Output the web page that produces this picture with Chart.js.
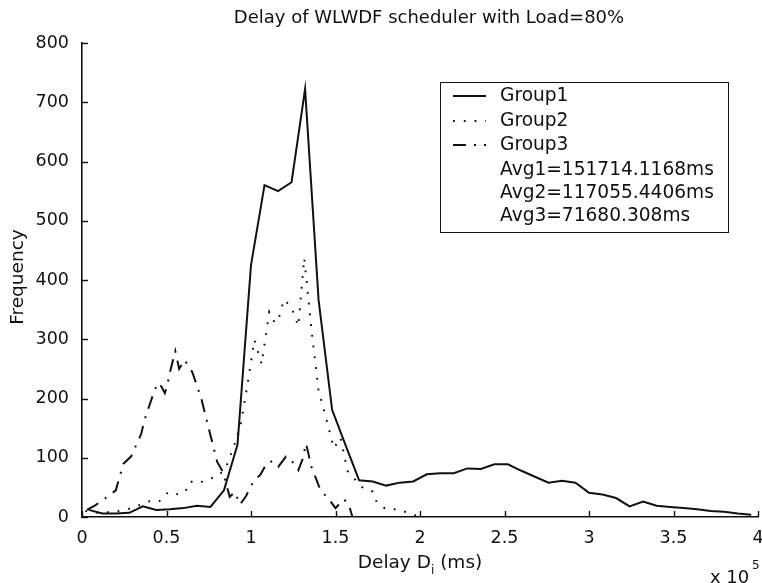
<!DOCTYPE html>
<html>
<head>
<meta charset="utf-8">
<script src="https://cdn.jsdelivr.net/npm/chart.js@4.4.1/dist/chart.umd.min.js"></script>
<style>
  html, body { margin: 0; padding: 0; background: #fff; }
  #wrap { width: 762px; height: 583px; }
</style>
</head>
<body>
<div id="wrap"><canvas id="c" width="762" height="583"></canvas></div>
<script>
/* Delay histogram, WLWDF scheduler @ 80% load — MATLAB-style black ink. */

// delay axis in units of 1e5 ms, frequency counts
var g1X = [0.04, 0.12, 0.20, 0.28, 0.36, 0.44, 0.52, 0.60, 0.68, 0.76, 0.84, 0.92, 1.00, 1.08, 1.16, 1.24,
           1.32, 1.40, 1.48, 1.56, 1.64, 1.72, 1.80, 1.88, 1.96, 2.04, 2.12, 2.20, 2.28, 2.36, 2.44, 2.52,
           2.60, 2.68, 2.76, 2.84, 2.92, 3.00, 3.08, 3.16, 3.24, 3.32, 3.40, 3.48, 3.56, 3.64, 3.72, 3.80,
           3.88, 3.96];
var g1Y = [12, 6, 6, 7, 18, 12, 13, 15, 19, 17, 45, 122, 425, 560, 550, 565,
           722, 366, 181, 121, 62, 60, 53, 58, 60, 72, 74, 74, 82, 81, 89, 89,
           78, 68, 58, 61, 58, 41, 38, 32, 18, 26, 19, 17, 15, 13, 10, 9,
           6, 4];

var g2X = [0.02, 0.10, 0.20, 0.28, 0.36, 0.42, 0.46, 0.51, 0.555, 0.61, 0.64, 0.69, 0.745, 0.80, 0.85,
           0.90, 0.94, 0.98, 1.02, 1.063, 1.108, 1.14, 1.16, 1.195, 1.24, 1.28, 1.315, 1.36, 1.40, 1.44,
           1.49, 1.53, 1.57, 1.62, 1.665, 1.72, 1.745, 1.80, 1.87, 1.94, 2.00];
var g2Y = [10, 7, 9, 14, 22, 29, 27, 42, 38, 42, 60, 57, 64, 68, 82,
           120, 158, 225, 299, 258, 346, 328, 331, 367, 354, 322, 437, 310, 213, 172,
           116, 134, 78, 62, 48, 43, 24, 13, 13, 6, 0];

var g3X = [0.03, 0.08, 0.14, 0.20, 0.245, 0.29, 0.35, 0.37, 0.42, 0.446, 0.47, 0.49, 0.505, 0.52,
           0.552, 0.575, 0.607, 0.652, 0.706, 0.76, 0.80, 0.834, 0.874, 0.905, 0.935, 0.97, 1.01,
           1.057, 1.095, 1.13, 1.162, 1.207, 1.23, 1.28, 1.306, 1.325, 1.34, 1.353, 1.38, 1.41,
           1.46, 1.50, 1.55, 1.58, 1.60];
var g3Y = [12, 20, 32, 45, 90, 102, 140, 164, 206, 226, 220, 209, 223, 244,
           280, 250, 265, 245, 200, 138, 93, 76, 34, 42, 21, 35, 58,
           72, 92, 94, 85, 102, 99, 79, 98, 124, 107, 88, 68, 46,
           30, 15, 30, 20, 0];

var seriesNames = ['Group1', 'Group2', 'Group3'];
var avgLines = ['Avg1=151714.1168ms', 'Avg2=117055.4406ms', 'Avg3=71680.308ms'];

var FONT = '"DejaVu Sans", "Liberation Sans", sans-serif';
var INK = '#111';

function pts(xs, ys) {
  return xs.map(function (x, i) { return { x: x, y: ys[i] }; });
}

// title, axis captions, inward ticks and the boxed legend
var decor = {
  id: 'decor',
  afterDraw: function (chart) {
    var ctx = chart.ctx, a = chart.chartArea;
    var xs = chart.scales.x, ys = chart.scales.y;
    ctx.save();
    ctx.strokeStyle = INK;
    ctx.fillStyle = INK;
    ctx.lineWidth = 1.4;

    // ticks point into the plot, MATLAB style
    ys.ticks.forEach(function (t) {
      var y = Math.round(ys.getPixelForValue(t.value)) + 0.5;
      ctx.beginPath(); ctx.moveTo(a.left, y); ctx.lineTo(a.left + 6, y); ctx.stroke();
    });
    xs.ticks.forEach(function (t) {
      var x = Math.round(xs.getPixelForValue(t.value)) + 0.5;
      ctx.beginPath(); ctx.moveTo(x, a.bottom); ctx.lineTo(x, a.bottom - 6); ctx.stroke();
    });

    // title
    ctx.font = '18px ' + FONT;
    ctx.textAlign = 'center';
    ctx.textBaseline = 'middle';
    ctx.fillText('Delay of WLWDF scheduler with Load=80%', 429, 18);

    // y caption
    ctx.save();
    ctx.translate(18, (a.top + a.bottom) / 2 - 3);
    ctx.rotate(-Math.PI / 2);
    ctx.font = '18.5px ' + FONT;
    ctx.fillText('Frequency', 0, 0);
    ctx.restore();

    // x caption with subscript i
    ctx.textAlign = 'left';
    var p1 = 'Delay D', p2 = ' (ms)';
    ctx.font = '18.5px ' + FONT;
    var w1 = ctx.measureText(p1).width;
    var w2 = ctx.measureText(p2).width;
    ctx.font = '12px ' + FONT;
    var wi = ctx.measureText('i').width;
    var x0 = 420 - (w1 + wi + w2) / 2, yc = 563;
    ctx.font = '18.5px ' + FONT;
    ctx.fillText(p1, x0, yc);
    ctx.fillText(p2, x0 + w1 + wi, yc);
    ctx.font = '12px ' + FONT;
    ctx.fillText('i', x0 + w1, yc + 8);

    // exponent of the delay axis
    ctx.font = '18px ' + FONT;
    ctx.fillText('x 10', 710, 578);
    ctx.font = '12px ' + FONT;
    ctx.fillText('5', 752, 566);

    // legend box
    var L = 440, T = 82, R = 728, B = 232;
    ctx.lineWidth = 1;
    ctx.strokeRect(L + 0.5, T + 0.5, R - L, B - T);
    ctx.font = '18.6px ' + FONT;
    ctx.textBaseline = 'middle';
    var rowY = [96, 121, 145, 170, 193, 216];
    chart.data.datasets.forEach(function (ds, i) {
      var y = rowY[i];
      ctx.save();
      ctx.lineWidth = ds.borderWidth;
      ctx.setLineDash(ds.borderDash || []);
      ctx.beginPath(); ctx.moveTo(453, y); ctx.lineTo(486, y); ctx.stroke();
      ctx.restore();
      ctx.fillText(ds.label, 500, y);
    });
    avgLines.forEach(function (s, i) {
      ctx.fillText(s, 500, rowY[3 + i]);
    });
    ctx.restore();
  }
};

new Chart(document.getElementById('c').getContext('2d'), {
  type: 'line',
  data: {
    datasets: [
      { label: seriesNames[0], data: pts(g1X, g1Y), borderColor: INK, borderWidth: 2,
        borderDash: [] },
      { label: seriesNames[1], data: pts(g2X, g2Y), borderColor: INK, borderWidth: 2,
        borderDash: [1.8, 9] },
      { label: seriesNames[2], data: pts(g3X, g3Y), borderColor: INK, borderWidth: 2,
        borderDash: [13, 8, 2, 8] }
    ]
  },
  options: {
    responsive: false,
    animation: false,
    events: [],
    layout: { padding: { top: 43, right: 4, left: 0, bottom: 0 } },
    elements: { point: { radius: 0 }, line: { tension: 0, fill: false } },
    plugins: { legend: { display: false }, tooltip: { enabled: false }, title: { display: false } },
    scales: {
      x: {
        type: 'linear', min: 0, max: 4,
        grid: { display: false, drawTicks: false },
        border: { display: true, color: INK, width: 1.6 },
        ticks: {
          stepSize: 0.5, color: INK, padding: 11, maxRotation: 0,
          font: { family: FONT, size: 17.5 },
          callback: function (v) { return String(v); }
        },
        // the last label may hang past the plot edge, as in the figure
        afterFit: function (s) { s.height = 66; s.paddingLeft = 0; s.paddingRight = 0; }
      },
      y: {
        min: 0, max: 800,
        grid: { display: false, drawTicks: false },
        border: { display: true, color: INK, width: 1.6 },
        ticks: {
          stepSize: 100, color: INK, padding: 13,
          font: { family: FONT, size: 17.5 }
        },
        afterFit: function (s) { s.width = 82; s.paddingTop = 0; s.paddingBottom = 0; }
      }
    }
  },
  plugins: [decor]
});
</script>
</body>
</html>
